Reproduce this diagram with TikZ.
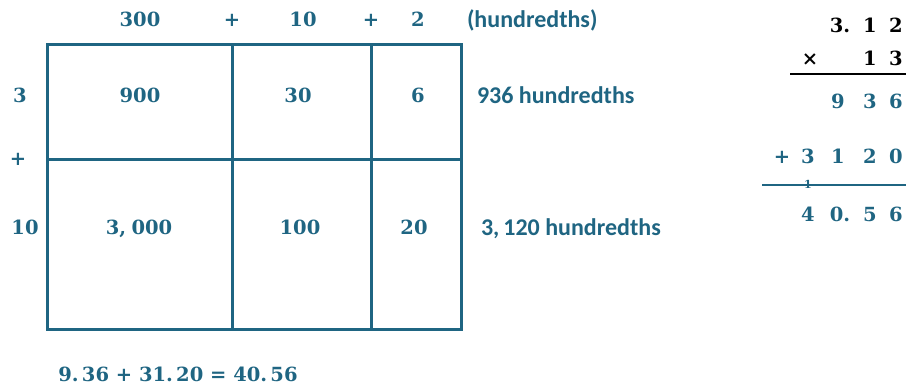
\documentclass[tikz,border=0pt]{standalone}
\usepackage{fontspec}
\setmainfont{Carlito}
\newfontfamily\numf{DejaVu Serif}
\definecolor{teal1}{RGB}{31,101,130}
\begin{document}
\begin{tikzpicture}[x=1pt,y=-1pt,
  every node/.style={inner sep=0pt,outer sep=0pt,anchor=center},
  num/.style={text=teal1,font=\fontsize{19.5}{21}\selectfont\numf\bfseries,text height=14pt,text depth=4pt},
  lab/.style={text=teal1,font=\fontsize{24}{26}\selectfont\bfseries,text height=17pt,text depth=5pt},
  blk/.style={text=black,font=\fontsize{19.5}{21}\selectfont\numf\bfseries,text height=14pt,text depth=4pt},
  gridline/.style={draw=teal1,line width=3pt}]
\useasboundingbox (0,0) rectangle (908,385);
% grid
\coordinate (g1) at (47,45);
\coordinate (g2) at (461,329);
\draw[gridline] (g1) rectangle (g2);
\draw[gridline] (232,45) -- (232,329);
\draw[gridline] (371,45) -- (371,329);
\draw[gridline] (47,160) -- (461,160);
% top labels
\node[num] (t300) at (140,22) {300};
\node[num] (tp1) at (232,22) {+};
\node[num] (t10) at (303,22) {10};
\node[num] (tp2) at (371,22) {+};
\node[num] (t2) at (418,22) {2};
\node[lab,anchor=west] (thund) at (467,22) {(hundredths)};
% left labels
\node[num] (l3) at (20,98) {3};
\node[num] (lp) at (18,161) {+};
\node[num] (l10) at (25,229) {10};
% cells
\node[num] (c900) at (140,98) {900};
\node[num] (c30) at (298,98) {30};
\node[num] (c6) at (418,98) {6};
\node[num] (c3000) at (139,229) {3,\;000};
\node[num] (c100) at (300,229) {100};
\node[num] (c20) at (414,229) {20};
% right labels
\node[lab,anchor=west] (r936) at (477,98) {936 hundredths};
\node[lab,anchor=west] (r3120) at (481,229) {3,\,120 hundredths};
% bottom equation
\node[num] (eq) at (178,376) {9.\,36 + 31.\,20 = 40.\,56};
% column multiplication
\node[blk] (a3) at (840,28) {3.};
\node[blk] (a1) at (870,28) {1};
\node[blk] (a2) at (896,28) {2};
\node[blk] (bx) at (810,61) {×};
\node[blk] (b1) at (870,61) {1};
\node[blk] (b3) at (896,61) {3};
\coordinate (bl1) at (790,74);
\coordinate (bl2) at (906,74);
\draw[line width=2pt] (bl1) -- (bl2);
\node[num] (p9) at (838,104) {9};
\node[num] (p3) at (870,104) {3};
\node[num] (p6) at (896,104) {6};
\node[num] (qp) at (782,159) {+};
\node[num] (q3) at (808,159) {3};
\node[num] (q1) at (838,159) {1};
\node[num] (q2) at (870,159) {2};
\node[num] (q0) at (896,159) {0};
\coordinate (sl1) at (762,185);
\coordinate (sl2) at (906,185);
\draw[teal1,line width=2pt] (sl1) -- (sl2);
\node[text=teal1,font=\fontsize{11}{12}\selectfont\numf\bfseries] (carry) at (808,184) {1};
\node[num] (s4) at (808,216) {4};
\node[num] (s0) at (840,216) {0.};
\node[num] (s5) at (870,216) {5};
\node[num] (s6) at (896,216) {6};
\end{tikzpicture}
\end{document}
